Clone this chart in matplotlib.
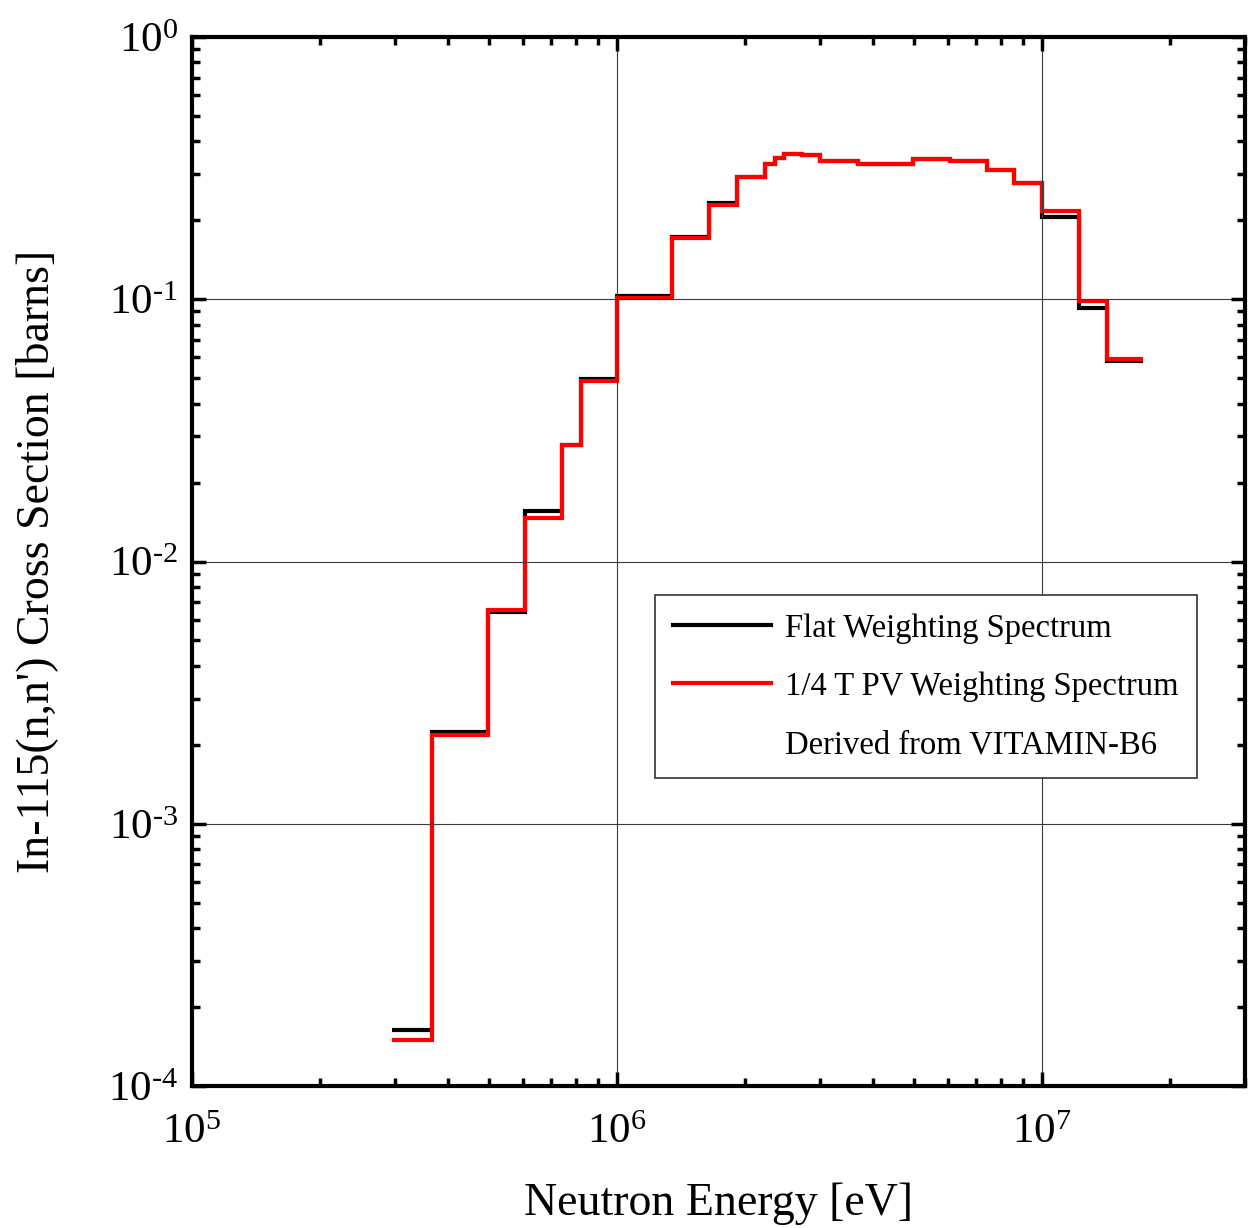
import matplotlib.pyplot as plt
from matplotlib.lines import Line2D
from matplotlib.ticker import LogLocator, NullFormatter, FuncFormatter
import numpy as np

plt.rcParams['font.family'] = 'Liberation Serif'
plt.rcParams['mathtext.fontset'] = 'custom'
plt.rcParams['mathtext.rm'] = 'Liberation Serif'
plt.rcParams['mathtext.it'] = 'Liberation Serif:italic'

# group boundaries [eV] and group-averaged cross sections [barns]
edges = [2.95e5, 3.68e5, 4.98e5, 6.08e5, 7.43e5, 8.21e5, 1.0e6, 1.35e6,
         1.65e6, 1.92e6, 2.23e6, 2.35e6, 2.47e6, 2.73e6, 3.01e6, 3.68e6,
         4.97e6, 6.07e6, 7.41e6, 8.61e6, 1.0e7, 1.22e7, 1.42e7, 1.73e7]
flat_xs = [1.64e-4, 2.24e-3, 6.40e-3, 1.56e-2, 2.78e-2, 4.95e-2, 0.103,
           0.173, 0.233, 0.292, 0.328, 0.346, 0.358, 0.355, 0.337, 0.328,
           0.343, 0.337, 0.311, 0.278, 0.206, 0.0926, 0.0583]
pv_xs = [1.50e-4, 2.18e-3, 6.55e-3, 1.46e-2, 2.78e-2, 4.88e-2, 0.101,
         0.171, 0.229, 0.292, 0.328, 0.346, 0.358, 0.355, 0.337, 0.328,
         0.343, 0.337, 0.311, 0.278, 0.217, 0.0985, 0.0592]


def pow10(v, pos):
    e = int(round(np.log10(v)))
    # hyphen (U+2010) instead of a math minus, as in the original
    return '$10^{%s}$' % (str(e).replace('-', '\u2010'))


fig = plt.figure(figsize=(12.49, 12.28), dpi=100)
ax = fig.add_axes([0.1537, 0.1156, 0.843, 0.8543])

ax.stairs(flat_xs, edges, baseline=None, color='black', lw=3,
          label='Flat Weighting Spectrum')
ax.stairs(pv_xs, edges, baseline=None, color='red', lw=3,
          label='1/4 T PV Weighting Spectrum')

ax.set_xscale('log')
ax.set_yscale('log')
ax.set_xlim(1e5, 3e7)
ax.set_ylim(1e-4, 1e0)

ax.xaxis.set_major_locator(LogLocator(base=10, numticks=10))
ax.xaxis.set_minor_locator(LogLocator(base=10, subs=range(2, 10), numticks=20))
ax.yaxis.set_minor_locator(LogLocator(base=10, subs=range(2, 10), numticks=20))
ax.xaxis.set_major_formatter(FuncFormatter(pow10))
ax.yaxis.set_major_formatter(FuncFormatter(pow10))
ax.xaxis.set_minor_formatter(NullFormatter())
ax.yaxis.set_minor_formatter(NullFormatter())

ax.grid(True, which='major', color='#3a3a3a', lw=0.8)
ax.tick_params(which='both', direction='in', top=True, right=True,
               width=2.5, labelsize=31)
ax.tick_params(which='major', length=10)
ax.tick_params(which='minor', length=6)
ax.tick_params(axis='x', which='major', pad=20)
ax.tick_params(axis='y', which='major', pad=10)
for sp in ax.spines.values():
    sp.set_linewidth(3)

ax.set_xlabel('Neutron Energy [eV]', fontsize=33, labelpad=22)
ax.set_ylabel("In-115(n,n') Cross Section [barns]", fontsize=33, labelpad=36)

handles, labels = ax.get_legend_handles_labels()
handles = [Line2D([], [], color='black', lw=3),
           Line2D([], [], color='red', lw=3),
           Line2D([], [], color='none')]
labels = labels + ['Derived from VITAMIN-B6']
leg = ax.legend(handles, labels, loc='upper left',
                bbox_to_anchor=(0.4397, 0.468), borderaxespad=0,
                fontsize=23.5, handlelength=3.0, labelspacing=0.85,
                borderpad=0.55, handletextpad=0.45, fancybox=False,
                framealpha=1, edgecolor='#333333')
leg.get_frame().set_linewidth(1.2)

fig.savefig('out.png', dpi=100)
